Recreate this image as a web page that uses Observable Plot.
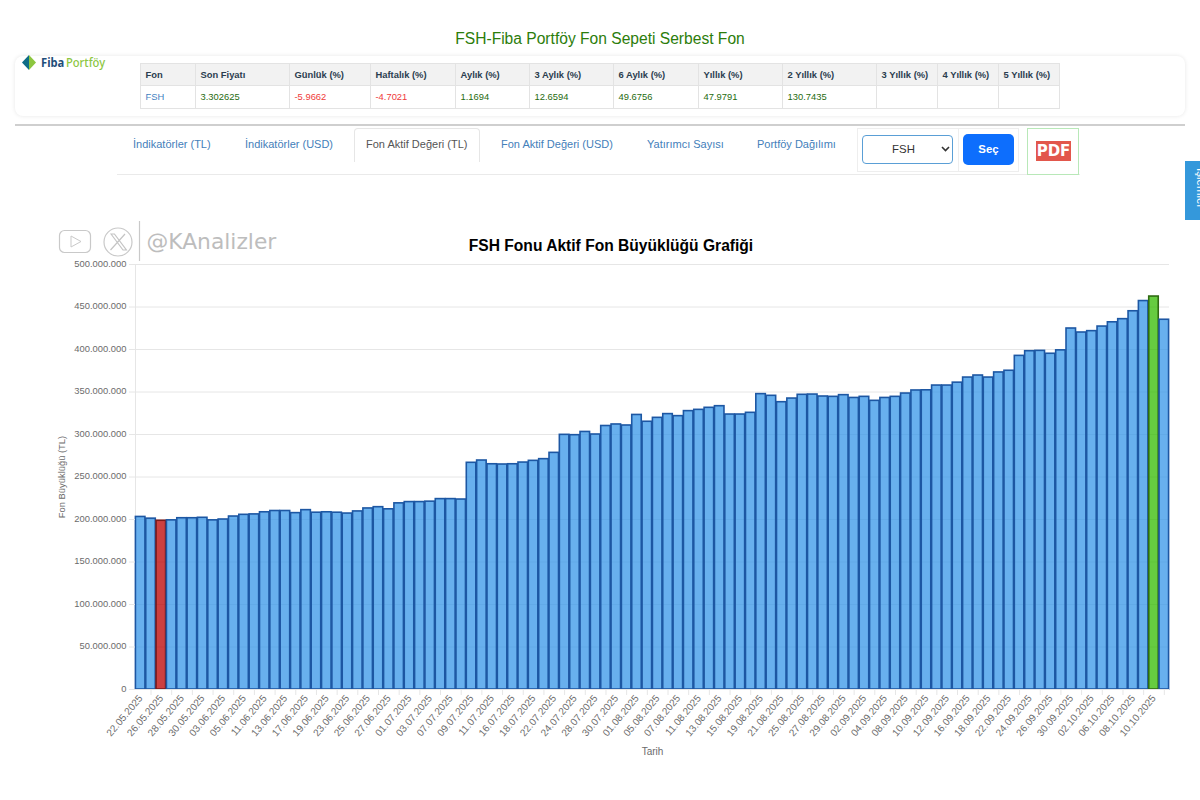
<!DOCTYPE html>
<html lang="tr">
<head>
<meta charset="utf-8">
<title>FSH Fonu Aktif Fon Büyüklüğü Grafiği</title>
<script src="https://cdn.jsdelivr.net/npm/d3@7"></script>
<script src="https://cdn.jsdelivr.net/npm/@observablehq/plot@0.6"></script>
<style>
  html, body { margin: 0; padding: 0; background: #fff; overflow: hidden; width: 1200px; height: 800px; }
  body { font-family: "Liberation Sans", Arial, sans-serif; position: relative; }
  .abs { position: absolute; }
  #pageTitle { left: 0; width: 1200px; top: 29px; text-align: center; font-size: 15.6px; line-height: 20px; color: #2c7d0b; }
  #card { left: 15px; top: 56px; width: 1170px; height: 60px; border-radius: 8px; background: #fff; box-shadow: 0 0 4px rgba(0,0,0,.1); }
  #logoMark { left: 22px; top: 55px; }
  #logoText { left: 41px; top: 54px; font-family: "Noto Sans", sans-serif; font-weight: 700; font-size: 13px; line-height: 17px; white-space: nowrap; transform-origin: 0 50%; transform: scaleX(.86); color: #1f4e79; }
  #logoText b { color: #8cc63f; font-weight: 500; margin-left: 2px; }
  #fundTable { left: 140px; top: 62.5px; border-collapse: collapse; table-layout: fixed; width: 919px; font-size: 9.4px; }
  #fundTable th, #fundTable td { border: 1px solid #e3e3e3; padding: 0 0 0 4.5px; text-align: left; overflow: hidden; white-space: nowrap; }
  #fundTable th { background: #f2f2f2; height: 21px; color: #2b3d4f; font-weight: 700; }
  #fundTable td { height: 22.5px; color: #1f6b0f; }
  #fundTable td.neg { color: #f03a3a; }
  #fundTable td.code { color: #3f7fbf; }
  #rule { left: 15px; top: 124px; width: 1170px; height: 2px; background: #cfcfcf; }
  #navLine { left: 117px; top: 174px; width: 963px; height: 1px; background: #eaeaea; }
  .tab { top: 137px; font-size: 11px; line-height: 14px; color: #4480ba; white-space: nowrap; }
  #activeTab { left: 354px; top: 128px; width: 124px; height: 33px; border: 1px solid #e6e6e6; border-bottom: 0; border-radius: 4px 4px 0 0; background: #fff; }
  #selCell { left: 857px; top: 128px; width: 100px; height: 42px; border: 1px solid #eee; }
  #btnCell { left: 958px; top: 128px; width: 60px; height: 42px; border: 1px solid #eee; border-left: 0; }
  #selBox { left: 862px; top: 135px; width: 89px; height: 27px; border: 1.5px solid #5a9fd6; border-radius: 4px; font-size: 11.4px; line-height: 27px; color: #333; text-align: center; box-sizing: content-box; }
  #selBox span { position: relative; left: -4px; }
  #selArrow { left: 941px; top: 146px; }
  #btn { left: 963px; top: 134px; width: 51px; height: 31px; border-radius: 5px; background: #0d6efd; color: #fff; font-weight: 700; font-size: 11.4px; line-height: 31px; text-align: center; }
  #pdfBox { left: 1027px; top: 128px; width: 50px; height: 45px; border: 1px solid #b8e8b8; }
  #pdfIcon { left: 1036px; top: 141px; width: 35px; height: 20px; background: #e2574c; color: #fff; font-weight: 700; font-size: 15px; line-height: 21px; text-align: center; font-family: "DejaVu Sans", sans-serif; }
  #sideTab { left: 1184.5px; top: 161px; width: 15.5px; height: 59px; background: #3498db; overflow: hidden; }
  #sideTab span { position: absolute; left: 22px; top: 7px; transform-origin: 0 0; transform: rotate(90deg); color: #fff; font-size: 11.5px; line-height: 12px; white-space: nowrap; }
  #wmText { left: 146.5px; top: 229px; font-family: "DejaVu Sans", sans-serif; font-size: 21.8px; line-height: 26px; color: #bdbdbd; }
  #wmIcons { left: 55px; top: 218px; }
  #chartTitle { left: 0; width: 1222px; top: 236px; text-align: center; font-size: 15.6px; line-height: 20px; font-weight: 700; color: #000; }
  #chart { left: 0; top: 256px; width: 1200px; }
  #chart svg { display: block; background: transparent; }
</style>
</head>
<body>
<div id="pageTitle" class="abs">FSH-Fiba Portföy Fon Sepeti Serbest Fon</div>
<div id="card" class="abs"></div>
<svg id="logoMark" class="abs" width="14" height="15" viewBox="0 0 14 15"><polygon points="7,0 14,7.5 7,15" fill="#8cc63f"/><polygon points="7,0 0,7.5 7,15" fill="#0e6c86"/></svg>
<div id="logoText" class="abs">Fiba<b>Portföy</b></div>
<table id="fundTable" class="abs">
  <colgroup id="cols"></colgroup>
  <thead><tr id="headRow"></tr></thead>
  <tbody><tr id="bodyRow"></tr></tbody>
</table>
<div id="rule" class="abs"></div>
<div id="navLine" class="abs"></div>
<div id="activeTab" class="abs"></div>
<div class="abs tab" style="left:133px">İndikatörler (TL)</div>
<div class="abs tab" style="left:245px">İndikatörler (USD)</div>
<div class="abs tab" style="left:366px;color:#555">Fon Aktif Değeri (TL)</div>
<div class="abs tab" style="left:501px">Fon Aktif Değeri (USD)</div>
<div class="abs tab" style="left:647px">Yatırımcı Sayısı</div>
<div class="abs tab" style="left:757px">Portföy Dağılımı</div>
<div id="selCell" class="abs"></div>
<div id="btnCell" class="abs"></div>
<div id="selBox" class="abs"><span>FSH</span></div>
<svg id="selArrow" class="abs" width="9" height="6" viewBox="0 0 9 6"><path d="M1 1l3.5 3.5L8 1" fill="none" stroke="#333" stroke-width="1.6"/></svg>
<div id="btn" class="abs">Seç</div>
<div id="pdfBox" class="abs"></div>
<div id="pdfIcon" class="abs">PDF</div>
<div id="sideTab" class="abs"><span>İşlemler</span></div>
<svg id="wmIcons" class="abs" width="90" height="46" viewBox="0 0 90 46">
  <rect x="4.5" y="12.5" width="31" height="22" rx="5" fill="none" stroke="#c9c9c9" stroke-width="1.2"/>
  <polygon points="16,18 16,29 26,23.5" fill="none" stroke="#c9c9c9" stroke-width="1"/>
  <circle cx="63" cy="24" r="14" fill="none" stroke="#c9c9c9" stroke-width="1.2"/>
  <path d="M56 16l12 16h3.4l-12-16zM70 16l-14.5 16" fill="none" stroke="#c4c4c4" stroke-width="1.2"/>
  <line x1="84.5" y1="3" x2="84.5" y2="43" stroke="#c9c9c9" stroke-width="1.2"/>
</svg>
<div id="wmText" class="abs">@KAnalizler</div>
<div id="chartTitle" class="abs">FSH Fonu Aktif Fon Büyüklüğü Grafiği</div>
<div id="chart" class="abs"></div>

<script>
// ---- table ----
const tableHeaders = ["Fon", "Son Fiyatı", "Günlük (%)", "Haftalık (%)", "Aylık (%)", "3 Aylık (%)", "6 Aylık (%)", "Yıllık (%)", "2 Yıllık (%)", "3 Yıllık (%)", "4 Yıllık (%)", "5 Yıllık (%)"];
const tableValues = ["FSH", "3.302625", "-5.9662", "-4.7021", "1.1694", "12.6594", "49.6756", "47.9791", "130.7435", "", "", ""];
const columnWidths = [55, 94, 81, 85, 74, 84, 85, 84, 94, 61, 61, 61];

// ---- chart data ----
const dates = [
  "22.05.2025","23.05.2025","26.05.2025","27.05.2025","28.05.2025","29.05.2025","30.05.2025","02.06.2025","03.06.2025","04.06.2025",
  "05.06.2025","10.06.2025","11.06.2025","12.06.2025","13.06.2025","16.06.2025","17.06.2025","18.06.2025","19.06.2025","20.06.2025",
  "23.06.2025","24.06.2025","25.06.2025","26.06.2025","27.06.2025","30.06.2025","01.07.2025","02.07.2025","03.07.2025","04.07.2025",
  "07.07.2025","08.07.2025","09.07.2025","10.07.2025","11.07.2025","14.07.2025","16.07.2025","17.07.2025","18.07.2025","21.07.2025",
  "22.07.2025","23.07.2025","24.07.2025","25.07.2025","28.07.2025","29.07.2025","30.07.2025","31.07.2025","01.08.2025","04.08.2025",
  "05.08.2025","06.08.2025","07.08.2025","08.08.2025","11.08.2025","12.08.2025","13.08.2025","14.08.2025","15.08.2025","18.08.2025",
  "19.08.2025","20.08.2025","21.08.2025","22.08.2025","25.08.2025","26.08.2025","27.08.2025","28.08.2025","29.08.2025","01.09.2025",
  "02.09.2025","03.09.2025","04.09.2025","05.09.2025","08.09.2025","09.09.2025","10.09.2025","11.09.2025","12.09.2025","15.09.2025",
  "16.09.2025","17.09.2025","18.09.2025","19.09.2025","22.09.2025","23.09.2025","24.09.2025","25.09.2025","26.09.2025","29.09.2025",
  "30.09.2025","01.10.2025","02.10.2025","03.10.2025","06.10.2025","07.10.2025","08.10.2025","09.10.2025","10.10.2025","13.10.2025"
];
const assets = [
  203000000,201000000,198500000,199000000,201500000,201500000,202000000,199000000,200000000,203500000,
  205500000,206000000,208500000,210000000,210000000,207500000,211000000,208000000,208500000,208000000,
  207000000,209500000,213000000,214500000,212000000,219000000,220500000,220500000,221000000,224000000,
  224000000,223500000,266700000,269400000,265000000,264700000,265000000,267000000,269000000,271000000,
  278400000,299600000,299200000,303000000,300000000,310000000,311800000,310600000,323000000,315000000,
  319600000,324000000,321600000,327500000,329000000,331400000,333300000,323500000,323500000,325500000,
  347500000,345500000,338000000,342300000,346700000,347000000,344700000,344300000,346300000,343000000,
  344300000,339600000,343000000,344300000,348200000,351800000,352000000,357600000,357600000,361000000,
  367000000,369400000,367000000,373000000,375000000,392500000,398000000,398400000,395000000,399000000,
  424700000,420000000,421600000,427000000,432000000,435700000,445000000,457000000,462300000,435000000
];
const yTicks = [0, 50000000, 100000000, 150000000, 200000000, 250000000, 300000000, 350000000, 400000000, 450000000, 500000000];

// ---- table build ----
document.getElementById("cols").innerHTML = columnWidths.map(w => `<col style="width:${w}px">`).join("");
document.getElementById("headRow").innerHTML = tableHeaders.map(h => `<th>${h}</th>`).join("");
document.getElementById("bodyRow").innerHTML = tableValues.map((v, i) =>
  `<td class="${i === 0 ? "code" : v.startsWith("-") ? "neg" : ""}">${v}</td>`).join("");

// ---- chart ----
const rows = dates.map((date, i) => ({date, value: assets[i]}));
const maxValue = d3.max(assets);
const minValue = d3.min(assets);
const fillOf = d => d.value === maxValue ? "rgb(51,187,0)" : d.value === minValue ? "rgb(187,0,0)" : "rgb(54,150,232)";
const strokeOf = d => d.value === maxValue ? "#2f6b12" : d.value === minValue ? "#7d1a1a" : "#1d57a3";
const trFormat = d3.formatLocale({decimal: ",", thousands: ".", grouping: [3], currency: ["", ""]}).format(",");
const labelledDates = dates.filter((_, i) => i % 2 === 0);
const tickDates = dates.filter((_, i) => i % 2 === 1);
const textColor = "#6b6b6b";
const lineColor = "#e6e6e6";

const plot = Plot.plot({
  width: 1200,
  height: 510,
  marginTop: 8,
  marginBottom: 77,
  marginLeft: 135,
  marginRight: 31,
  style: {fontFamily: '"Liberation Sans", Arial, sans-serif', fontSize: "9.4px", background: "transparent"},
  x: {type: "band", domain: dates, paddingInner: 0.08, paddingOuter: 0.04, round: false},
  y: {domain: [0, 500000000]},
  marks: [
    Plot.gridY(yTicks, {stroke: lineColor, strokeOpacity: 1}),
    Plot.frame({anchor: "left", stroke: lineColor}),
    Plot.barY(rows, {
      x: "date",
      y: "value",
      fill: fillOf,
      fillOpacity: 0.75,
      stroke: strokeOf,
      strokeWidth: 1.6,
      title: d => `${d.date}: ${trFormat(d.value)}`
    }),
    Plot.ruleY([0], {stroke: lineColor}),
    Plot.axisY(yTicks, {
      tickSize: 6,
      stroke: lineColor,
      tickFormat: () => "",
      label: null
    }),
    Plot.axisY(yTicks, {
      tickSize: 0,
      tickPadding: 9,
      dy: -0.7,
      fill: textColor,
      tickFormat: trFormat,
      label: "Fon Büyüklüğü (TL)",
      labelAnchor: "center",
      labelArrow: "none",
      labelOffset: 77
    }),
    Plot.axisX(tickDates, {
      tickSize: 6,
      stroke: lineColor,
      tickFormat: () => "",
      label: null
    }),
    Plot.axisX(labelledDates, {
      tickSize: 0,
      tickPadding: 7,
      tickRotate: -50,
      fontSize: 10,
      fill: textColor,
      label: "Tarih",
      labelAnchor: "center",
      labelArrow: "none",
      labelOffset: 65
    })
  ]
});
document.getElementById("chart").append(plot);
</script>
</body>
</html>
